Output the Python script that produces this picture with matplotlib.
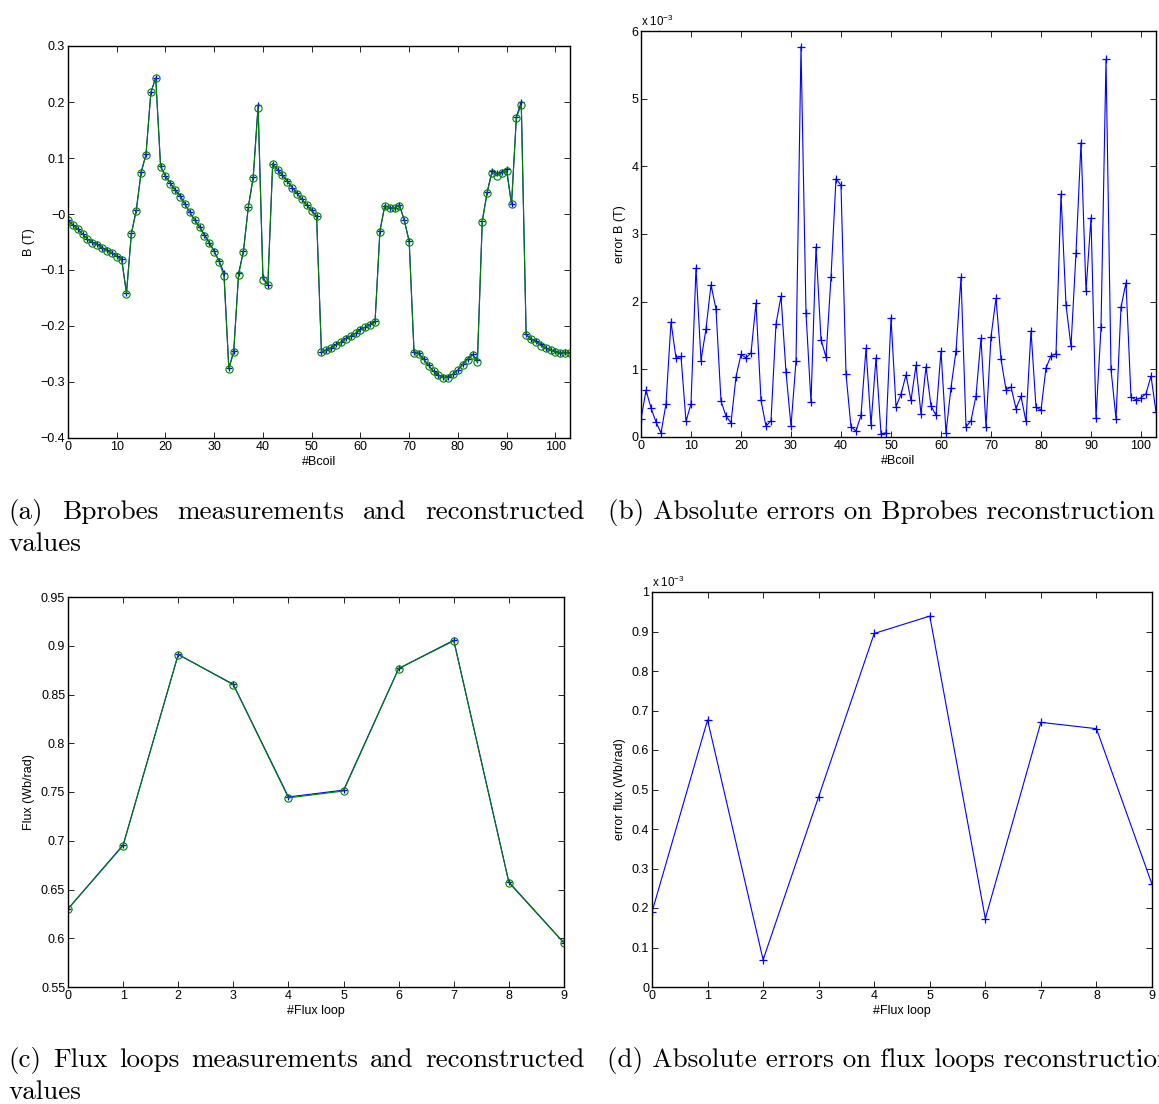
import numpy as np
import matplotlib.pyplot as plt
from matplotlib.ticker import FuncFormatter

# --- data ------------------------------------------------------------------
bcoil = np.arange(104)
b_meas = [-0.011, -0.020, -0.027, -0.036, -0.045, -0.051, -0.055, -0.061, -0.066, -0.070,
          -0.076, -0.082, -0.142, -0.036, 0.005, 0.073, 0.106, 0.217, 0.243, 0.084,
          0.067, 0.054, 0.042, 0.031, 0.017, 0.003, -0.011, -0.024, -0.039, -0.052,
          -0.067, -0.085, -0.111, -0.277, -0.246, -0.109, -0.067, 0.012, 0.064, 0.190,
          -0.117, -0.127, 0.090, 0.079, 0.069, 0.058, 0.047, 0.036, 0.026, 0.016,
          0.005, -0.004, -0.247, -0.243, -0.239, -0.234, -0.229, -0.223, -0.218, -0.213,
          -0.207, -0.202, -0.198, -0.193, -0.032, 0.015, 0.011, 0.010, 0.015, -0.011,
          -0.050, -0.248, -0.250, -0.260, -0.271, -0.281, -0.288, -0.292, -0.292, -0.286,
          -0.279, -0.269, -0.260, -0.252, -0.265, -0.014, 0.038, 0.074, 0.068, 0.073,
          0.077, 0.017, 0.172, 0.195, -0.216, -0.223, -0.229, -0.235, -0.240, -0.243,
          -0.246, -0.248, -0.248, -0.248]
# absolute error on B, in units of 1e-3 T
err_b = [0.26, 0.69, 0.43, 0.22, 0.06, 0.49, 1.70, 1.17, 1.19, 0.23,
         0.49, 2.50, 1.13, 1.60, 2.25, 1.89, 0.53, 0.31, 0.21, 0.89,
         1.22, 1.17, 1.24, 1.98, 0.54, 0.16, 0.24, 1.67, 2.08, 0.96,
         0.16, 1.12, 5.77, 1.83, 0.51, 2.81, 1.44, 1.18, 2.36, 3.82,
         3.72, 0.93, 0.15, 0.09, 0.32, 1.31, 0.18, 1.17, 0.05, 0.06,
         1.76, 0.45, 0.63, 0.92, 0.54, 1.06, 0.34, 1.04, 0.46, 0.32,
         1.27, 0.06, 0.73, 1.27, 2.36, 0.15, 0.24, 0.61, 1.46, 0.15,
         1.48, 2.05, 1.15, 0.70, 0.74, 0.42, 0.60, 0.23, 1.57, 0.44,
         0.40, 1.02, 1.20, 1.23, 3.59, 1.95, 1.34, 2.72, 4.35, 2.16,
         3.24, 0.28, 1.62, 5.58, 1.00, 0.27, 1.92, 2.28, 0.59, 0.55,
         0.58, 0.64, 0.90, 0.37]

loops = np.arange(10)
flux_meas = [0.630, 0.695, 0.891, 0.860, 0.744, 0.751, 0.8765, 0.905, 0.657, 0.595]
# absolute error on flux, in units of 1e-3 Wb/rad
err_flux = [0.190, 0.676, 0.069, 0.482, 0.895, 0.939, 0.173, 0.670, 0.654, 0.260]

b_rec = np.array(b_meas) + np.array(err_b) * 1e-3
flux_rec = np.array(flux_meas) + np.array(err_flux) * 1e-3

# --- style ------------------------------------------------------------------
plt.rcParams['font.family'] = ['Liberation Sans', 'DejaVu Sans']
plt.rcParams['mathtext.fontset'] = 'custom'
plt.rcParams['mathtext.rm'] = 'Liberation Sans'
plt.rcParams['mathtext.it'] = 'Liberation Sans'
FS = 9
BLUE = (0, 0, 1)
GREEN = (0, 0.5, 0)

W, H = 1159, 1104
fig = plt.figure(figsize=(W / 100, H / 100), dpi=100)


def add_ax(left, right, top, bottom):
    return fig.add_axes([left / W, 1 - bottom / H, (right - left) / W, (bottom - top) / H])


def matlab_fmt(v, pos):
    return ('%g' % round(v, 6)).replace('-', '\u2212')


def style(ax, xlabel, ylabel):
    ax.tick_params(direction='in', top=True, right=True, length=4, width=0.6,
                   labelsize=FS, pad=2)
    for s in ax.spines.values():
        s.set_linewidth(1.0)
    ax.set_xlabel(xlabel, fontsize=FS, labelpad=2)
    ax.set_ylabel(ylabel, fontsize=FS, labelpad=4)
    ax.yaxis.set_major_formatter(FuncFormatter(matlab_fmt))
    ax.xaxis.set_major_formatter(FuncFormatter(matlab_fmt))


# (a) Bprobes
ax = add_ax(68, 570, 46, 438)
ax.plot(bcoil, b_rec, color=BLUE, lw=0.8, marker='+', ms=5, mew=0.9)
ax.plot(bcoil, b_meas, color=GREEN, lw=0.8, marker='o', ms=5.2, mfc='none', mew=0.8)
ax.set_xlim(0, 103)
ax.set_ylim(-0.4, 0.3)
ax.set_xticks(np.arange(0, 101, 10))
ax.set_yticks(np.arange(-0.4, 0.31, 0.1))
style(ax, '#Bcoil', 'B (T)')

# (b) errors on Bprobes
ax = add_ax(641, 1156, 31, 437)
ax.plot(bcoil, err_b, color=BLUE, lw=0.8, marker='+', ms=5.5, mew=0.9)
ax.set_xlim(0, 103)
ax.set_ylim(0, 6)
ax.set_xticks(np.arange(0, 101, 10))
ax.set_yticks(np.arange(0, 7, 1))
style(ax, '#Bcoil', 'error B (T)')
ax.text(0, 1.006, r'x 10$^{-3}$', transform=ax.transAxes,
        fontsize=FS - 0.7, va='bottom', ha='left')

# (c) flux loops
ax = add_ax(68, 564, 597, 987)
ax.plot(loops, flux_rec, color=BLUE, lw=0.8, marker='+', ms=5, mew=0.9)
ax.plot(loops, flux_meas, color=GREEN, lw=0.8, marker='o', ms=5.2, mfc='none', mew=0.8)
ax.set_xlim(0, 9)
ax.set_ylim(0.55, 0.95)
ax.set_xticks(loops)
ax.set_yticks(np.arange(0.55, 0.951, 0.05))
style(ax, '#Flux loop', 'Flux (Wb/rad)')

# (d) errors on flux loops
ax = add_ax(652, 1152, 592, 987)
ax.plot(loops, err_flux, color=BLUE, lw=0.8, marker='+', ms=5.5, mew=0.9)
ax.set_xlim(0, 9)
ax.set_ylim(0, 1)
ax.set_xticks(loops)
ax.set_yticks(np.arange(0, 1.01, 0.1))
style(ax, '#Flux loop', 'error flux (Wb/rad)')
ax.text(0, 1.006, r'x 10$^{-3}$', transform=ax.transAxes,
        fontsize=FS - 0.7, va='bottom', ha='left')

# --- captions (LaTeX-like, first lines justified) ---------------------------
CAP = dict(fontfamily='cmr10', va='baseline', ha='left')
renderer = fig.canvas.get_renderer()

# pick the caption size so that (b) spans its measured width
probe = fig.text(0, 0, '(b) Absolute errors on Bprobes reconstruction', fontsize=17, **CAP)
wid = probe.get_window_extent(renderer).width
probe.remove()
CS = 17 * (1154 - 608) / wid


def justified(words, x0, x1, ybase):
    texts = [fig.text(0, 1 - ybase / H, w, fontsize=CS, **CAP) for w in words]
    widths = [t.get_window_extent(renderer).width for t in texts]
    gap = (x1 - x0 - sum(widths)) / (len(words) - 1)
    x = x0
    for t, w in zip(texts, widths):
        t.set_x(x / W)
        x += w + gap


justified(['(a)', 'Bprobes', 'measurements', 'and', 'reconstructed'], 8, 585, 519)
fig.text(8 / W, 1 - 551 / H, 'values', fontsize=CS, **CAP)
fig.text(608 / W, 1 - 519 / H, '(b) Absolute errors on Bprobes reconstruction', fontsize=CS, **CAP)
justified(['(c)', 'Flux', 'loops', 'measurements', 'and', 'reconstructed'], 8, 585, 1067)
fig.text(8 / W, 1 - 1099 / H, 'values', fontsize=CS, **CAP)
# the reference cuts this caption at the right page edge
fig.text(607 / W, 1 - 1067 / H, '(d) Absolute errors on flux loops reconstruction', fontsize=CS, **CAP)

fig.savefig('out.png', dpi=100)
